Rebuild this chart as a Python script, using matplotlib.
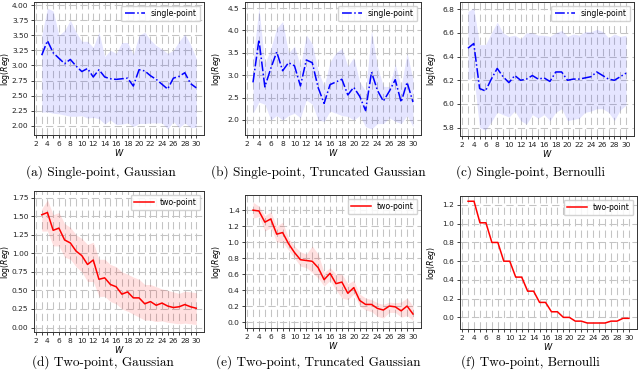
import numpy as np
import matplotlib.pyplot as plt

W = np.arange(3, 31)

# (a) single-point, Gaussian
a_mean = [3.17, 3.41, 3.21, 3.12, 3.03, 3.10, 2.99, 2.90, 2.95, 2.81, 2.93, 2.81, 2.78, 2.77,
          2.78, 2.79, 2.66, 2.93, 2.91, 2.83, 2.77, 2.69, 2.61, 2.79, 2.82, 2.88, 2.70, 2.63]
a_hi = [3.50, 3.95, 3.90, 3.50, 3.58, 3.75, 3.55, 3.40, 3.40, 3.30, 3.55, 3.15, 3.25, 3.20,
        3.38, 3.38, 3.18, 3.50, 3.55, 3.42, 3.33, 3.27, 3.20, 3.25, 3.40, 3.52, 3.35, 3.12]
a_lo = [2.23, 2.23, 2.21, 2.20, 2.18, 2.16, 2.16, 2.17, 2.13, 2.14, 2.12, 2.03, 2.10, 2.02,
        2.03, 2.05, 1.99, 2.04, 2.04, 2.05, 2.05, 2.05, 1.95, 2.07, 1.97, 2.05, 1.97, 1.98]

# (b) single-point, truncated Gaussian
b_mean = [2.84, 3.79, 2.74, 3.15, 3.52, 3.10, 3.28, 3.21, 2.76, 3.34, 3.28, 2.72, 2.37, 2.79,
          2.85, 2.91, 2.56, 2.73, 2.53, 2.21, 3.07, 2.66, 2.42, 2.64, 2.90, 2.40, 2.84, 2.40]
b_hi = [3.35, 4.50, 3.25, 3.60, 4.05, 4.20, 3.50, 3.65, 3.20, 3.90, 3.70, 3.10, 2.75, 3.30,
        3.50, 3.60, 3.20, 3.40, 2.85, 2.65, 4.00, 3.20, 2.75, 2.75, 3.25, 2.75, 3.50, 2.90]
b_lo = [2.15, 2.40, 2.35, 2.00, 2.10, 2.00, 2.10, 2.15, 2.05, 2.45, 2.35, 2.00, 1.97, 2.20,
        2.15, 2.10, 2.08, 2.00, 2.10, 1.85, 1.80, 1.92, 1.92, 2.05, 1.97, 1.92, 2.10, 1.85]

# (c) single-point, Bernoulli
c_mean = [6.47, 6.51, 6.13, 6.11, 6.21, 6.30, 6.23, 6.18, 6.24, 6.20, 6.21, 6.24, 6.21, 6.22,
          6.19, 6.27, 6.27, 6.20, 6.21, 6.21, 6.22, 6.23, 6.27, 6.24, 6.21, 6.20, 6.23, 6.26]
c_hi = [6.78, 6.81, 6.50, 6.50, 6.60, 6.69, 6.60, 6.57, 6.58, 6.55, 6.60, 6.60, 6.58, 6.58,
        6.57, 6.60, 6.62, 6.57, 6.59, 6.58, 6.61, 6.61, 6.63, 6.61, 6.56, 6.59, 6.57, 6.58]
c_lo = [6.20, 6.23, 5.80, 5.78, 5.85, 5.93, 5.91, 5.89, 5.94, 5.86, 5.83, 5.91, 5.88, 5.91,
        5.86, 5.93, 5.96, 5.86, 5.87, 5.88, 5.93, 5.94, 5.96, 5.96, 5.93, 5.86, 5.95, 5.99]

# (d) two-point, Gaussian
d_mean = [1.52, 1.55, 1.31, 1.34, 1.18, 1.14, 1.03, 0.97, 0.85, 0.91, 0.65, 0.67, 0.58, 0.55,
          0.45, 0.48, 0.40, 0.40, 0.32, 0.35, 0.30, 0.33, 0.29, 0.27, 0.28, 0.31, 0.28, 0.26]
d_hi = [1.60, 1.72, 1.52, 1.55, 1.40, 1.35, 1.25, 1.20, 1.12, 1.15, 0.92, 0.92, 0.85, 0.82,
        0.75, 0.72, 0.68, 0.65, 0.58, 0.58, 0.55, 0.52, 0.50, 0.48, 0.46, 0.49, 0.48, 0.47]
d_lo = [1.30, 1.30, 1.10, 1.10, 0.95, 0.92, 0.82, 0.75, 0.62, 0.62, 0.42, 0.42, 0.35, 0.32,
        0.25, 0.22, 0.18, 0.14, 0.10, 0.10, 0.08, 0.09, 0.07, 0.06, 0.05, 0.06, 0.05, 0.04]

# (e) two-point, truncated Gaussian
e_mean = [1.40, 1.39, 1.25, 1.29, 1.10, 1.12, 0.98, 0.87, 0.78, 0.77, 0.76, 0.68, 0.53, 0.61,
          0.48, 0.50, 0.36, 0.43, 0.27, 0.22, 0.22, 0.17, 0.15, 0.20, 0.19, 0.14, 0.20, 0.10]
e_hi = [1.50, 1.45, 1.33, 1.38, 1.20, 1.25, 1.05, 0.95, 0.88, 0.85, 0.95, 0.85, 0.62, 0.68,
        0.60, 0.60, 0.48, 0.52, 0.35, 0.30, 0.28, 0.24, 0.22, 0.25, 0.24, 0.25, 0.30, 0.20]
e_lo = [1.30, 1.32, 1.14, 1.18, 1.00, 1.00, 0.90, 0.80, 0.70, 0.68, 0.62, 0.55, 0.45, 0.52,
        0.40, 0.30, 0.28, 0.35, 0.20, 0.15, 0.13, 0.07, 0.05, 0.12, 0.12, 0.06, 0.08, 0.02]

# (f) two-point, Bernoulli
f_mean = [1.24, 1.24, 1.01, 1.01, 0.80, 0.80, 0.60, 0.60, 0.43, 0.43, 0.28, 0.28, 0.16, 0.16,
          0.06, 0.06, 0.00, 0.00, -0.04, -0.04, -0.06, -0.06, -0.06, -0.06, -0.04, -0.04, -0.01, -0.01]

captions = ['(a) Single-point, Gaussian', '(b) Single-point, Truncated Gaussian',
            '(c) Single-point, Bernoulli', '(d) Two-point, Gaussian',
            '(e) Two-point, Truncated Gaussian', '(f) Two-point, Bernoulli']

################################################################################

fs = 5.4
W_px, H_px = 640, 371

def px_axes(fig, l, t, r, b):
  return fig.add_axes([l/W_px, 1-b/H_px, (r-l)/W_px, (b-t)/H_px])

def style(ax, ylim, yticks, yfmt, box, ylab_x):
  ax.set_xlim(1.65, 31.35)
  ax.set_ylim(*ylim)
  ax.set_xticks(range(2, 31))
  ax.set_xticklabels([str(k) if k % 2 == 0 else '' for k in range(2, 31)])
  ax.set_yticks(yticks)
  ax.set_yticklabels([yfmt.format(v) for v in yticks])
  ax.tick_params(labelsize=fs, length=2.5, width=0.6, pad=1.5, colors='#222222')
  ax.grid(True, ls=(0, (7, 4)), color='#c4c4c4', lw=0.75)
  ax.set_axisbelow(True)
  for s in ax.spines.values():
    s.set_linewidth(0.7)
    s.set_color('#333333')
  ax.set_xlabel(r'$W$', fontsize=fs+0.6, labelpad=0.5)
  ax.set_ylabel(r'$\log(Reg)$', fontsize=fs+0.2)
  # ylabel anchor is its right edge, put it at a fixed pixel column
  ax.yaxis.set_label_coords((ylab_x-box[0])/(box[2]-box[0]), 0.5)

fig = plt.figure(figsize=(6.4, 3.71), dpi=100)

boxes = [(34, 2, 204, 135), (245, 2, 421, 135), (460, 2, 634, 136),
         (34, 191, 204, 332), (245, 195, 421, 328), (460, 196, 637, 329)]
ylab_xs = [12, 223, 438, 12, 223, 438]

single = [(a_mean, a_lo, a_hi, (1.85, 4.05), np.arange(2.0, 4.01, 0.25), '{:.2f}'),
          (b_mean, b_lo, b_hi, (1.665, 4.635), np.arange(2.0, 4.51, 0.5), '{:.1f}'),
          (c_mean, c_lo, c_hi, (5.73, 6.86), np.arange(5.8, 6.81, 0.2), '{:.1f}')]
two = [(d_mean, d_lo, d_hi, (-0.06, 1.84), np.arange(0.0, 1.76, 0.25), '{:.2f}'),
       (e_mean, e_lo, e_hi, (-0.075, 1.59), np.arange(0.0, 1.41, 0.2), '{:.1f}'),
       (f_mean, None, None, (-0.124, 1.296), np.arange(0.0, 1.21, 0.2), '{:.1f}')]

for i, (m, lo, hi, yl, yt, yf) in enumerate(single):
  ax = px_axes(fig, *boxes[i])
  ax.fill_between(W, lo, hi, color='blue', alpha=0.1, lw=0)
  ax.plot(W, m, '-.', color='blue', lw=1.1, label='single-point')
  style(ax, yl, yt, yf, boxes[i], ylab_xs[i])
  ax.legend(loc='upper right', fontsize=fs+0.2, handlelength=2.6, borderpad=0.4,
            framealpha=0.85, edgecolor='#cccccc')

for i, (m, lo, hi, yl, yt, yf) in enumerate(two):
  ax = px_axes(fig, *boxes[i+3])
  if lo is not None:
    ax.fill_between(W, lo, hi, color='red', alpha=0.12, lw=0)
  ax.plot(W, m, '-', color='red', lw=1.1, label='two-point')
  style(ax, yl, yt, yf, boxes[i+3], ylab_xs[i+3])
  ax.legend(loc='upper right', fontsize=fs+0.2, handlelength=2.6, borderpad=0.4,
            framealpha=0.85, edgecolor='#cccccc')

cap_pos = [(101, 172), (318, 172), (530, 172), (103, 362), (318, 362), (530, 362)]
for (x, y), txt in zip(cap_pos, captions):
  fig.text(x/W_px, 1-y/H_px, txt, ha='center', va='center', fontsize=9.5, family='cmr10')

fig.savefig('out.png', dpi=100)
